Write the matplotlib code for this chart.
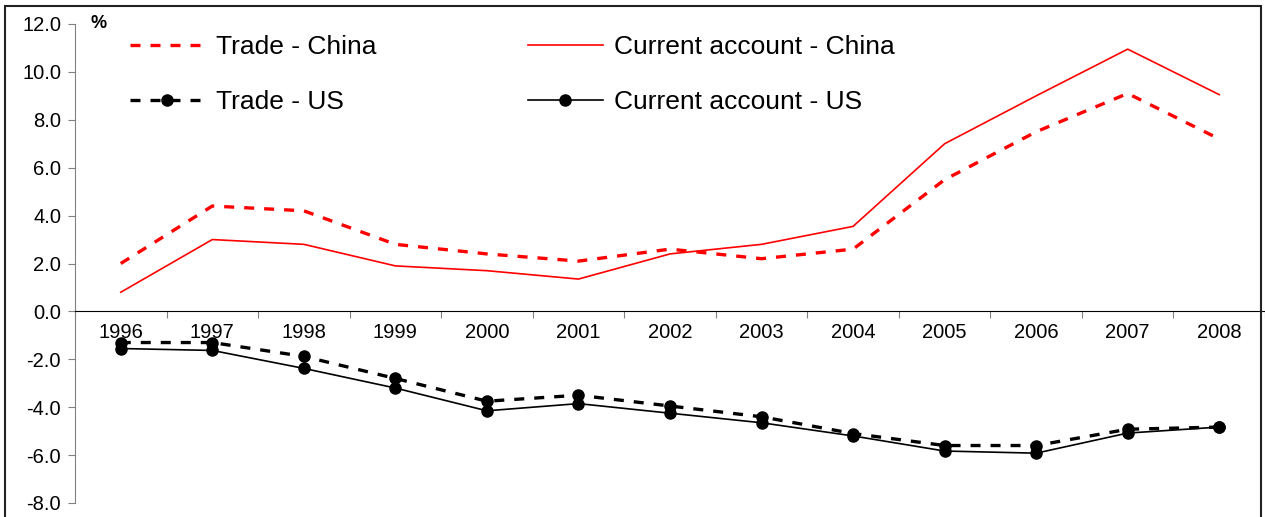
import matplotlib.pyplot as plt
from matplotlib.patches import Rectangle

plt.rcParams['font.family'] = ['Liberation Sans', 'DejaVu Sans']

# Data (% of GDP)
years = ['1996', '1997', '1998', '1999', '2000', '2001', '2002',
         '2003', '2004', '2005', '2006', '2007', '2008']
trade_china = [2.0, 4.4, 4.2, 2.8, 2.4, 2.1, 2.6, 2.2, 2.6, 5.5, 7.5, 9.1, 7.2]
ca_china = [0.8, 3.0, 2.8, 1.9, 1.7, 1.35, 2.4, 2.8, 3.55, 7.0, 9.0, 10.95, 9.05]
trade_us = [-1.3, -1.3, -1.88, -2.8, -3.75, -3.5, -3.95, -4.4, -5.1, -5.6, -5.6, -4.92, -4.83]
ca_us = [-1.55, -1.63, -2.38, -3.2, -4.15, -3.85, -4.25, -4.65, -5.2, -5.83, -5.92, -5.08, -4.83]

fig = plt.figure(figsize=(12.65, 5.17), dpi=100)
ax = fig.add_axes([75 / 1265, 14 / 517, 1190 / 1265, 479 / 517])

x = range(len(years))
l1, = ax.plot(x, trade_china, color='red', lw=2.4, dashes=(3, 3), label='Trade - China')
l2, = ax.plot(x, ca_china, color='red', lw=1.2, label='Current account - China')
l3, = ax.plot(x, trade_us, color='black', lw=2.4, dashes=(3, 3), marker='o', ms=8,
              label='Trade - US')
l4, = ax.plot(x, ca_us, color='black', lw=1.2, marker='o', ms=8,
              label='Current account - US')

ax.set_xlim(-0.5, len(years) - 0.5)
ax.set_ylim(-8, 12)
ax.set_yticks(range(-8, 13, 2))
ax.set_yticklabels([f'{v:.1f}' for v in range(-8, 13, 2)], fontsize=14.5)
ax.tick_params(axis='y', direction='out', length=5, color='#808080', pad=5)

# category axis sits on the zero line
ax.spines['bottom'].set_position(('data', 0))
ax.spines['top'].set_visible(False)
ax.spines['right'].set_visible(False)
ax.spines['left'].set_color('#808080')
ax.set_xticks([i - 0.5 for i in range(len(years) + 1)])
ax.set_xticklabels([])
ax.set_xticks(list(x), minor=True)
ax.set_xticklabels(years, minor=True, fontsize=14.5)
ax.tick_params(axis='x', which='major', direction='out', length=5, color='#808080')
ax.tick_params(axis='x', which='minor', length=0, pad=8)

ax.text(0.013, 12, '%', fontsize=13, fontweight='bold', va='center', ha='left',
        transform=ax.get_yaxis_transform())

ax.legend([l1, l3, l2, l4], [h.get_label() for h in (l1, l3, l2, l4)],
          ncol=2, loc='upper left', bbox_to_anchor=(0.046, 0.976), frameon=False,
          fontsize=19, handlelength=2.85, handletextpad=0.4, columnspacing=5.75,
          labelspacing=1.17, borderaxespad=0, borderpad=0)

# outer frame
fig.patches.append(Rectangle((5 / 1265, -0.01), 1256 / 1265, 1 - 6 / 517 + 0.01,
                             transform=fig.transFigure, fill=False, lw=1.5,
                             edgecolor='#222222'))

fig.savefig('out.png', dpi=100)
